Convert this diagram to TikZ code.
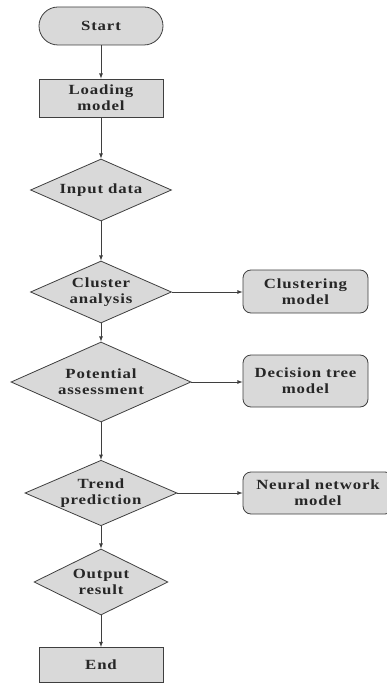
\documentclass[tikz,border=0pt]{standalone}
\usepackage{fontspec}
\setmainfont{Liberation Serif}[FakeStretch=1.2,LetterSpace=6]
\usetikzlibrary{shapes,arrows,positioning,calc}
\definecolor{boxfill}{HTML}{D9D9D9}
\definecolor{boxline}{HTML}{3F3F3F}

\begin{document}
\begin{tikzpicture}[x=1pt,y=-1pt,
    every node/.style={font=\fontsize{14}{16}\selectfont\bfseries, align=center, text=black!85},
    startbox/.style={draw=boxline, thick, fill=boxfill, rounded corners=19pt, minimum width=124pt, minimum height=38pt},
    procbox/.style={draw=boxline, thick, fill=boxfill, minimum width=124pt, minimum height=37pt},
    modelbox/.style={draw=boxline, thick, fill=boxfill, rounded corners=8pt, minimum width=125pt},
    decision/.style={draw=boxline, thick, fill=boxfill, diamond, aspect=2.2, inner sep=0pt},
    flow/.style={->, >=latex, draw=boxline, thick}]
                \useasboundingbox (0,0) rectangle (387,684);

                % main column
                \node[startbox] (start) at (101,26) {Start};
                \node[procbox, minimum height=38pt] (load) at (101,98) {Loading\\model};
                \node[decision, minimum width=141pt, minimum height=62pt] (input) at (101,190) {Input data};
                \node[decision, minimum width=141pt, minimum height=62pt] (cluster) at (101,292) {Cluster\\analysis};
                \node[decision, minimum width=180pt, minimum height=80pt] (potential) at (101,382) {Potential\\assessment};
                \node[decision, minimum width=152pt, minimum height=65pt] (trend) at (101,493) {Trend\\prediction};
                \node[decision, minimum width=134pt, minimum height=66pt] (output) at (101,582) {Output\\result};
                \node[procbox, minimum height=35pt] (end) at (101,665) {End};

                % models
                \node[modelbox, minimum height=43pt] (clustering) at (305.5,291.5) {Clustering\\model};
                \node[modelbox, minimum height=52pt] (dtree) at (305.5,381) {Decision tree\\model};
                \node[modelbox, minimum width=150pt, minimum height=42pt] (neural) at (318,493) {Neural network\\model};

                % arrows
                \foreach \a/\b in {start/load, load/input, input/cluster, cluster/potential, potential/trend, trend/output, output/end} {
                    \draw[flow] (\a.south) -- (\b.north);
                }
                \draw[flow] (cluster.east) -- (cluster.east -| clustering.west);
                \draw[flow] (potential.east) -- (potential.east -| dtree.west);
                \draw[flow] (trend.east) -- (trend.east -| neural.west);
            \end{tikzpicture}
\end{document}
